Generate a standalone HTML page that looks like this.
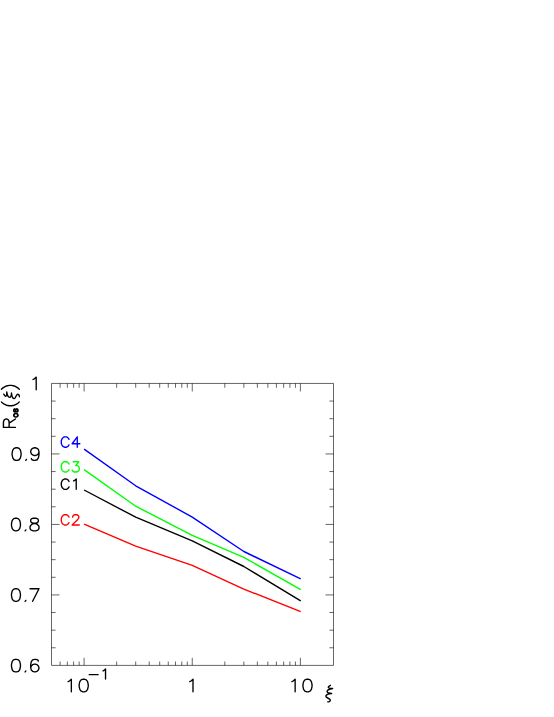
<!DOCTYPE html>
<html><head><meta charset="utf-8"><title>chart</title><style>html,body{margin:0;padding:0;background:#fff;font-family:"Liberation Sans",sans-serif}svg{display:block}</style></head><body>
<svg width="554" height="717" viewBox="0 0 554 717">
<rect width="554" height="717" fill="#fff"/>
<path d="M51.50 383.45 H333.50 V665.40 H51.50 ZM60.11 665.40v-3.90M60.11 383.45v4.30M67.35 665.40v-3.90M67.35 383.45v4.30M73.62 665.40v-3.90M73.62 383.45v4.30M79.15 665.40v-3.90M79.15 383.45v4.30M84.10 665.40v-7.60M84.10 383.45v8.00M116.66 665.40v-3.90M116.66 383.45v4.30M135.70 665.40v-3.90M135.70 383.45v4.30M149.21 665.40v-3.90M149.21 383.45v4.30M159.69 665.40v-3.90M159.69 383.45v4.30M168.26 665.40v-3.90M168.26 383.45v4.30M175.50 665.40v-3.90M175.50 383.45v4.30M181.77 665.40v-3.90M181.77 383.45v4.30M187.30 665.40v-3.90M187.30 383.45v4.30M192.25 665.40v-7.60M192.25 383.45v8.00M224.81 665.40v-3.90M224.81 383.45v4.30M243.85 665.40v-3.90M243.85 383.45v4.30M257.36 665.40v-3.90M257.36 383.45v4.30M267.84 665.40v-3.90M267.84 383.45v4.30M276.41 665.40v-3.90M276.41 383.45v4.30M283.65 665.40v-3.90M283.65 383.45v4.30M289.92 665.40v-3.90M289.92 383.45v4.30M295.45 665.40v-3.90M295.45 383.45v4.30M300.40 665.40v-7.60M300.40 383.45v8.00M51.50 647.78h4.10M333.50 647.78h-4.10M51.50 630.16h4.10M333.50 630.16h-4.10M51.50 612.53h4.10M333.50 612.53h-4.10M51.50 594.91h8.00M333.50 594.91h-8.00M51.50 577.29h4.10M333.50 577.29h-4.10M51.50 559.67h4.10M333.50 559.67h-4.10M51.50 542.05h4.10M333.50 542.05h-4.10M51.50 524.42h8.00M333.50 524.42h-8.00M51.50 506.80h4.10M333.50 506.80h-4.10M51.50 489.18h4.10M333.50 489.18h-4.10M51.50 471.56h4.10M333.50 471.56h-4.10M51.50 453.94h8.00M333.50 453.94h-8.00M51.50 436.32h4.10M333.50 436.32h-4.10M51.50 418.69h4.10M333.50 418.69h-4.10M51.50 401.07h4.10M333.50 401.07h-4.10" fill="none" stroke="#000" stroke-width="0.75" stroke-opacity="0.8"/>
<polyline points="84.10,449.10 135.70,485.80 192.25,517.10 243.85,551.50 300.70,578.90" fill="none" stroke="#0000ff" stroke-width="1.4" stroke-linejoin="round"/>
<polyline points="84.10,469.60 135.70,506.20 192.25,535.30 243.85,557.40 300.70,589.70" fill="none" stroke="#00ff00" stroke-width="1.4" stroke-linejoin="round"/>
<polyline points="84.10,490.00 135.70,517.20 192.25,540.90 243.85,566.50 300.70,600.80" fill="none" stroke="#000000" stroke-width="1.4" stroke-linejoin="round"/>
<polyline points="84.10,524.20 135.70,546.20 192.25,565.40 243.85,589.10 300.70,611.60" fill="none" stroke="#ff0000" stroke-width="1.4" stroke-linejoin="round"/>
<path d="M33.00 379.50 L34.28 378.90 L36.20 377.10 L36.20 389.70" stroke="#000" fill="none" stroke-width="1.35" stroke-linecap="round" stroke-linejoin="round"/>
<path d="M15.96 447.74 L14.04 448.34 L12.76 450.14 L12.12 453.14 L12.12 454.94 L12.76 457.94 L14.04 459.74 L15.96 460.34 L17.24 460.34 L19.16 459.74 L20.44 457.94 L21.08 454.94 L21.08 453.14 L20.44 450.14 L19.16 448.34 L17.24 447.74 L15.96 447.74M26.52 459.38 L25.75 460.40M39.00 451.94 L38.36 453.74 L37.08 454.94 L35.16 455.54 L34.52 455.54 L32.60 454.94 L31.32 453.74 L30.68 451.94 L30.68 451.34 L31.32 449.54 L32.60 448.34 L34.52 447.74 L35.16 447.74 L37.08 448.34 L38.36 449.54 L39.00 451.94 L39.00 454.94 L38.36 457.94 L37.08 459.74 L35.16 460.34 L33.88 460.34 L31.96 459.74 L31.32 458.54" stroke="#000" fill="none" stroke-width="1.35" stroke-linecap="round" stroke-linejoin="round"/>
<path d="M15.32 518.22 L13.40 518.82 L12.12 520.62 L11.48 523.62 L11.48 525.42 L12.12 528.42 L13.40 530.22 L15.32 530.82 L16.60 530.82 L18.52 530.22 L19.80 528.42 L20.44 525.42 L20.44 523.62 L19.80 520.62 L18.52 518.82 L16.60 518.22 L15.32 518.22M25.88 529.86 L25.11 530.88M33.24 518.22 L31.32 518.82 L30.68 520.02 L30.68 521.22 L31.32 522.42 L32.60 523.02 L35.16 523.62 L37.08 524.22 L38.36 525.42 L39.00 526.62 L39.00 528.42 L38.36 529.62 L37.72 530.22 L35.80 530.82 L33.24 530.82 L31.32 530.22 L30.68 529.62 L30.04 528.42 L30.04 526.62 L30.68 525.42 L31.96 524.22 L33.88 523.62 L36.44 523.02 L37.72 522.42 L38.36 521.22 L38.36 520.02 L37.72 518.82 L35.80 518.22 L33.24 518.22" stroke="#000" fill="none" stroke-width="1.35" stroke-linecap="round" stroke-linejoin="round"/>
<path d="M15.32 588.71 L13.40 589.31 L12.12 591.11 L11.48 594.11 L11.48 595.91 L12.12 598.91 L13.40 600.71 L15.32 601.31 L16.60 601.31 L18.52 600.71 L19.80 598.91 L20.44 595.91 L20.44 594.11 L19.80 591.11 L18.52 589.31 L16.60 588.71 L15.32 588.71M25.88 600.35 L25.11 601.37M39.00 588.71 L32.60 601.31M30.04 588.71 L39.00 588.71" stroke="#000" fill="none" stroke-width="1.35" stroke-linecap="round" stroke-linejoin="round"/>
<path d="M15.32 659.30 L13.40 659.90 L12.12 661.70 L11.48 664.70 L11.48 666.50 L12.12 669.50 L13.40 671.30 L15.32 671.90 L16.60 671.90 L18.52 671.30 L19.80 669.50 L20.44 666.50 L20.44 664.70 L19.80 661.70 L18.52 659.90 L16.60 659.30 L15.32 659.30M25.88 670.94 L25.11 671.96M38.36 661.10 L37.72 659.90 L35.80 659.30 L34.52 659.30 L32.60 659.90 L31.32 661.70 L30.68 664.70 L30.68 667.70 L31.32 670.10 L32.60 671.30 L34.52 671.90 L35.16 671.90 L37.08 671.30 L38.36 670.10 L39.00 668.30 L39.00 667.70 L38.36 665.90 L37.08 664.70 L35.16 664.10 L34.52 664.10 L32.60 664.70 L31.32 665.90 L30.68 667.70" stroke="#000" fill="none" stroke-width="1.35" stroke-linecap="round" stroke-linejoin="round"/>
<path d="M68.10 681.60 L69.40 681.00 L71.35 679.20 L71.35 691.80M83.05 679.20 L81.10 679.80 L79.80 681.60 L79.15 684.60 L79.15 686.40 L79.80 689.40 L81.10 691.20 L83.05 691.80 L84.35 691.80 L86.30 691.20 L87.60 689.40 L88.25 686.40 L88.25 684.60 L87.60 681.60 L86.30 679.80 L84.35 679.20 L83.05 679.20" stroke="#000" fill="none" stroke-width="1.35" stroke-linecap="round" stroke-linejoin="round"/>
<path d="M89.20 674.68 L98.11 674.68M103.06 670.84 L104.05 670.36 L105.53 668.92 L105.53 679.00" stroke="#000" fill="none" stroke-width="1.35" stroke-linecap="round" stroke-linejoin="round"/>
<path d="M189.75 681.60 L191.05 681.00 L193.00 679.20 L193.00 691.80" stroke="#000" fill="none" stroke-width="1.35" stroke-linecap="round" stroke-linejoin="round"/>
<path d="M291.90 681.60 L293.20 681.00 L295.15 679.20 L295.15 691.80M306.85 679.20 L304.90 679.80 L303.60 681.60 L302.95 684.60 L302.95 686.40 L303.60 689.40 L304.90 691.20 L306.85 691.80 L308.15 691.80 L310.10 691.20 L311.40 689.40 L312.05 686.40 L312.05 684.60 L311.40 681.60 L310.10 679.80 L308.15 679.20 L306.85 679.20" stroke="#000" fill="none" stroke-width="1.35" stroke-linecap="round" stroke-linejoin="round"/>
<path d="M69.02 439.36 L68.51 438.38 L67.48 437.40 L66.45 436.91 L64.39 436.91 L63.36 437.40 L62.33 438.38 L61.81 439.36 L61.30 440.83 L61.30 443.28 L61.81 444.75 L62.33 445.73 L63.36 446.71 L64.39 447.20 L66.45 447.20 L67.48 446.71 L68.51 445.73 L69.02 444.75M77.27 436.91 L72.11 443.77 L79.84 443.77M77.27 436.91 L77.27 447.20" stroke="#0000ff" fill="none" stroke-width="1.35" stroke-linecap="round" stroke-linejoin="round"/>
<path d="M69.02 464.16 L68.51 463.18 L67.48 462.20 L66.45 461.71 L64.39 461.71 L63.36 462.20 L62.33 463.18 L61.81 464.16 L61.30 465.63 L61.30 468.08 L61.81 469.55 L62.33 470.53 L63.36 471.51 L64.39 472.00 L66.45 472.00 L67.48 471.51 L68.51 470.53 L69.02 469.55M73.14 461.71 L78.81 461.71 L75.72 465.63 L77.27 465.63 L78.29 466.12 L78.81 466.61 L79.32 468.08 L79.32 469.06 L78.81 470.53 L77.78 471.51 L76.23 472.00 L74.69 472.00 L73.14 471.51 L72.63 471.02 L72.11 470.04" stroke="#00ff00" fill="none" stroke-width="1.35" stroke-linecap="round" stroke-linejoin="round"/>
<path d="M69.02 481.46 L68.51 480.48 L67.48 479.50 L66.45 479.01 L64.39 479.01 L63.36 479.50 L62.33 480.48 L61.81 481.46 L61.30 482.93 L61.30 485.38 L61.81 486.85 L62.33 487.83 L63.36 488.81 L64.39 489.30 L66.45 489.30 L67.48 488.81 L68.51 487.83 L69.02 486.85M73.66 480.97 L74.69 480.48 L76.23 479.01 L76.23 489.30" stroke="#000000" fill="none" stroke-width="1.35" stroke-linecap="round" stroke-linejoin="round"/>
<path d="M69.02 517.16 L68.51 516.18 L67.48 515.20 L66.45 514.71 L64.39 514.71 L63.36 515.20 L62.33 516.18 L61.81 517.16 L61.30 518.63 L61.30 521.08 L61.81 522.55 L62.33 523.53 L63.36 524.51 L64.39 525.00 L66.45 525.00 L67.48 524.51 L68.51 523.53 L69.02 522.55M72.63 517.16 L72.63 516.67 L73.14 515.69 L73.66 515.20 L74.69 514.71 L76.75 514.71 L77.78 515.20 L78.29 515.69 L78.81 516.67 L78.81 517.65 L78.29 518.63 L77.27 520.10 L72.11 525.00 L79.32 525.00" stroke="#ff0000" fill="none" stroke-width="1.35" stroke-linecap="round" stroke-linejoin="round"/>
<g transform="translate(315,678)"><path d="M15.4 7.3 C14 8 13 9 13.4 9.7 C14 10.5 16 10.5 17.6 10.5 C15.5 10.8 12.3 12 12.1 13.5 C12 14.8 14.5 15.5 16.6 15.5 C14 15.8 10.8 17 10.9 18.4 C11 20 15.3 20.5 15.3 22 C15.3 23.3 14 24 12.7 23.9" stroke="#000" fill="none" stroke-width="1.4" stroke-linecap="round" stroke-linejoin="round"/></g>
<g transform="translate(15.4,427.4) rotate(-90)"><path d="M0.00 -11.97 L0.00 0.00M0.00 -11.97 L5.40 -11.97 L7.20 -11.40 L7.80 -10.83 L8.40 -9.69 L8.40 -8.55 L7.80 -7.41 L7.20 -6.84 L5.40 -6.27 L0.00 -6.27M4.20 -6.27 L8.40 0.00M25.52 -14.00 L24.40 -12.88 L23.28 -11.20 L22.16 -8.96 L21.60 -6.16 L21.60 -3.92 L22.16 -1.12 L23.28 1.12 L24.40 2.80 L25.52 3.92M38.10 -14.00 L39.22 -12.88 L40.34 -11.20 L41.46 -8.96 L42.02 -6.16 L42.02 -3.92 L41.46 -1.12 L40.34 1.12 L39.22 2.80 L38.10 3.92" stroke="#000" fill="none" stroke-width="1.40" stroke-linecap="round" stroke-linejoin="round"/>
<path d="M11.75 -1.56 L11.21 -1.27 L10.67 -0.69 L10.40 0.18 L10.40 0.76 L10.67 1.63 L11.21 2.21 L11.75 2.50 L12.56 2.50 L13.10 2.21 L13.64 1.63 L13.91 0.76 L13.91 0.18 L13.64 -0.69 L13.10 -1.27 L12.56 -1.56 L11.75 -1.56M18.50 -0.69 L18.23 -1.27 L17.42 -1.56 L16.61 -1.56 L15.80 -1.27 L15.53 -0.69 L15.80 -0.11 L16.34 0.18 L17.69 0.47 L18.23 0.76 L18.50 1.34 L18.50 1.63 L18.23 2.21 L17.42 2.50 L16.61 2.50 L15.80 2.21 L15.53 1.63" stroke="#000" fill="none" stroke-width="1.70" stroke-linecap="round" stroke-linejoin="round"/>
<g transform="translate(17.9,-18.5) scale(1,0.94)"><path d="M15.4 7.3 C14 8 13 9 13.4 9.7 C14 10.5 16 10.5 17.6 10.5 C15.5 10.8 12.3 12 12.1 13.5 C12 14.8 14.5 15.5 16.6 15.5 C14 15.8 10.8 17 10.9 18.4 C11 20 15.3 20.5 15.3 22 C15.3 23.3 14 24 12.7 23.9" stroke="#000" fill="none" stroke-width="1.4" stroke-linecap="round" stroke-linejoin="round"/></g>
</g>
</svg>
</body></html>
